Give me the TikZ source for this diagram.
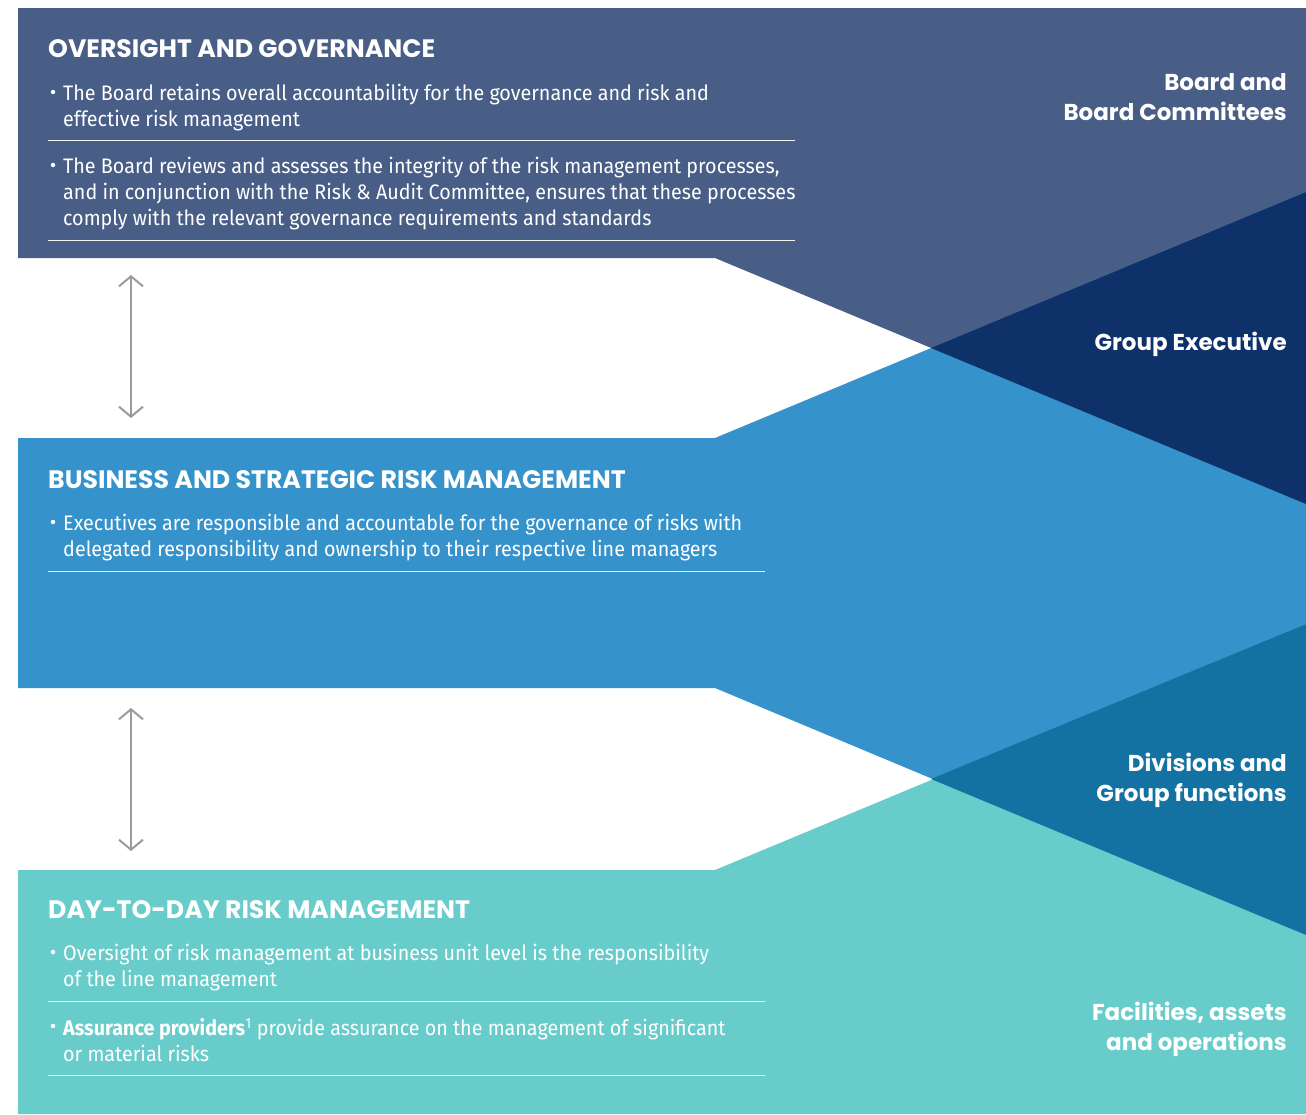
\documentclass[tikz,border=0pt]{standalone}
\usepackage{fontspec}
\usepackage{tikz}
\usetikzlibrary{arrows.meta}
\newfontfamily\headfont{Poppins}
\newfontfamily\bodyfont{Fira Sans}[FakeStretch=0.94]
\definecolor{slateband}{RGB}{72,94,134}
\definecolor{navyband}{RGB}{14,49,105}
\definecolor{blueband}{RGB}{53,146,203}
\definecolor{deepband}{RGB}{20,114,163}
\definecolor{tealband}{RGB}{103,204,202}
\definecolor{linkgray}{RGB}{155,155,155}

\tikzset{
  heading/.style={font=\headfont\bfseries\fontsize{25.2}{28}\selectfont, text=white, anchor=west, inner sep=0pt},
  body/.style={font=\bodyfont\fontsize{21}{26}\selectfont, text=white, align=left, anchor=north west, inner sep=0pt},
  dot/.style={circle, fill=white, minimum size=4.5pt, inner sep=0pt},
  tier/.style={font=\headfont\bfseries\fontsize{23}{30}\selectfont, text=white, align=right, anchor=east, inner sep=0pt},
  sepline/.style={white!90!gray, line width=1pt},
  link/.style={linkgray, line width=2pt, {Straight Barb[length=10pt,width=24pt]}-{Straight Barb[length=10pt,width=24pt]}}
}

\begin{document}
\begin{tikzpicture}[x=1pt, y=-1pt]
  \useasboundingbox[fill=white] (0,0) rectangle (1306,1114);

  % Bands (lines cross at x=931)
  \fill[slateband] (18,8) -- (1306,8) -- (1306,504) -- (715,258) -- (18,258) -- cycle;
  \fill[blueband] (18,438) -- (715,438) -- (1306,192) -- (1306,935) -- (715,688) -- (18,688) -- cycle;
  \fill[tealband] (18,870) -- (715,870) -- (1306,624) -- (1306,1114) -- (18,1114) -- cycle;

  % Overlaps
  \fill[navyband] (931,348) -- (1306,192) -- (1306,504) -- cycle;
  \fill[deepband] (931,779) -- (1306,624) -- (1306,935) -- cycle;

  % Headings
  \node[heading] (og) at (48,49) {OVERSIGHT AND GOVERNANCE};
  \node[heading] (bsr) at (48,480) {BUSINESS AND STRATEGIC RISK MANAGEMENT};
  \node[heading] (dtd) at (48,910) {DAY-TO-DAY RISK MANAGEMENT};

  % Bullet points
  \foreach \n/\y in {og1/92, og2/165, bsr1/522, dtd1/952, dtd2/1026}{
    \node[dot] (\n dot) at (53,\y) {};
  }
  \node[body] (og1) at (63,84) {The Board retains overall accountability for the governance and risk and\\effective risk management};
  \node[body] (og2) at (63,157) {The Board reviews and assesses the integrity of the risk management processes,\\and in conjunction with the Risk \& Audit Committee, ensures that these processes\\comply with the relevant governance requirements and standards};
  \node[body] (bsr1) at (63,514) {Executives are responsible and accountable for the governance of risks with\\delegated responsibility and ownership to their respective line managers};
  \node[body] (dtd1) at (63,944) {Oversight of risk management at business unit level is the responsibility\\of the line management};
  \node[body] (dtd2) at (63,1018) {\textbf{Assurance providers}\textsuperscript{1} provide assurance on the management of significant\\or material risks};

  % Separators
  \foreach \y/\xe in {140/795, 240/795, 571/765, 1001/765, 1075/765}{
    \draw[sepline] (48,\y) -- (\xe,\y);
  }

  % Tiers
  \node[tier] (board) at (1287,97) {Board and\\Board Committees};
  \node[tier] (gexec) at (1287,344) {Group Executive};
  \node[tier] (divs) at (1287,780) {Divisions and\\Group functions};
  \node[tier] (facs) at (1287,1029) {Facilities, assets\\and operations};

  % Links between bands
  \coordinate (ogfoot) at (131,275);
  \coordinate (bsrhead) at (131,418);
  \coordinate (bsrfoot) at (131,708);
  \coordinate (dtdhead) at (131,851);
  \draw[link] (ogfoot) -- (bsrhead);
  \draw[link] (bsrfoot) -- (dtdhead);
\end{tikzpicture}
\end{document}
